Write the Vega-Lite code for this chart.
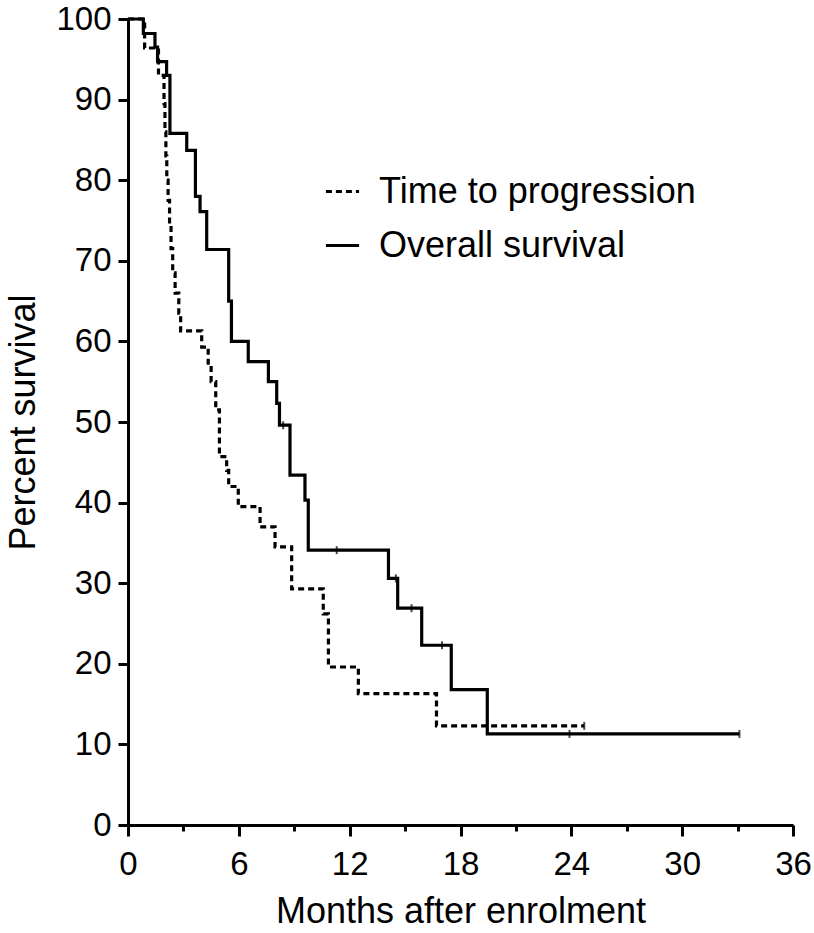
{
  "$schema": "https://vega.github.io/schema/vega-lite/v6.json",
  "width": 665,
  "height": 806,
  "autosize": {"type": "none"},
  "padding": {"left": 128, "top": 19, "right": 21, "bottom": 108},
  "background": "white",
  "config": {
    "view": {"stroke": null},
    "font": "Liberation Sans",
    "axis": {"grid": false, "domainColor": "black", "domainWidth": 3, "tickColor": "black", "tickWidth": 3, "labelColor": "black", "titleColor": "black", "labelFont": "Liberation Sans", "titleFont": "Liberation Sans", "titleFontWeight": "normal", "labelFontSize": 33, "titleFontSize": 36}
  },
  "datasets": {
    "curves": [
      {"series": "Time to progression", "month": 0, "pct": 100},
      {"series": "Time to progression", "month": 0.9, "pct": 96.4},
      {"series": "Time to progression", "month": 1.65, "pct": 93.0},
      {"series": "Time to progression", "month": 1.95, "pct": 89.5},
      {"series": "Time to progression", "month": 2.0, "pct": 86.0},
      {"series": "Time to progression", "month": 2.05, "pct": 83.0},
      {"series": "Time to progression", "month": 2.1, "pct": 80.0},
      {"series": "Time to progression", "month": 2.17, "pct": 77.5},
      {"series": "Time to progression", "month": 2.25, "pct": 74.5},
      {"series": "Time to progression", "month": 2.33, "pct": 71.5},
      {"series": "Time to progression", "month": 2.42, "pct": 68.5},
      {"series": "Time to progression", "month": 2.55, "pct": 66.0},
      {"series": "Time to progression", "month": 2.75, "pct": 63.5},
      {"series": "Time to progression", "month": 2.85, "pct": 61.3},
      {"series": "Time to progression", "month": 3.99, "pct": 59.3},
      {"series": "Time to progression", "month": 4.34, "pct": 57.3},
      {"series": "Time to progression", "month": 4.5, "pct": 55.0},
      {"series": "Time to progression", "month": 4.75, "pct": 51.5},
      {"series": "Time to progression", "month": 4.95, "pct": 45.7},
      {"series": "Time to progression", "month": 5.34, "pct": 44.0},
      {"series": "Time to progression", "month": 5.45, "pct": 42.0},
      {"series": "Time to progression", "month": 5.97, "pct": 39.5},
      {"series": "Time to progression", "month": 7.15, "pct": 37.0},
      {"series": "Time to progression", "month": 7.96, "pct": 34.5},
      {"series": "Time to progression", "month": 8.86, "pct": 29.3},
      {"series": "Time to progression", "month": 10.57, "pct": 26.2},
      {"series": "Time to progression", "month": 10.85, "pct": 19.6},
      {"series": "Time to progression", "month": 12.47, "pct": 16.3},
      {"series": "Time to progression", "month": 16.7, "pct": 12.3},
      {"series": "Time to progression", "month": 24.7, "pct": 12.3},
      {"series": "Overall survival", "month": 0, "pct": 100},
      {"series": "Overall survival", "month": 0.83, "pct": 98.2},
      {"series": "Overall survival", "month": 1.46, "pct": 96.5},
      {"series": "Overall survival", "month": 1.6, "pct": 94.7},
      {"series": "Overall survival", "month": 2.09, "pct": 93.0},
      {"series": "Overall survival", "month": 2.27, "pct": 85.8},
      {"series": "Overall survival", "month": 3.18, "pct": 83.7},
      {"series": "Overall survival", "month": 3.65, "pct": 78.0},
      {"series": "Overall survival", "month": 3.9, "pct": 76.1},
      {"series": "Overall survival", "month": 4.26, "pct": 71.4},
      {"series": "Overall survival", "month": 5.45, "pct": 65.0},
      {"series": "Overall survival", "month": 5.6, "pct": 60.0},
      {"series": "Overall survival", "month": 6.51, "pct": 57.5},
      {"series": "Overall survival", "month": 7.6, "pct": 55.0},
      {"series": "Overall survival", "month": 8.05, "pct": 52.3},
      {"series": "Overall survival", "month": 8.2, "pct": 49.6},
      {"series": "Overall survival", "month": 8.77, "pct": 43.4},
      {"series": "Overall survival", "month": 9.58, "pct": 40.3},
      {"series": "Overall survival", "month": 9.76, "pct": 34.1},
      {"series": "Overall survival", "month": 14.1, "pct": 30.6},
      {"series": "Overall survival", "month": 14.6, "pct": 26.9},
      {"series": "Overall survival", "month": 15.9, "pct": 22.3},
      {"series": "Overall survival", "month": 17.5, "pct": 16.8},
      {"series": "Overall survival", "month": 19.45, "pct": 11.3},
      {"series": "Overall survival", "month": 33.1, "pct": 11.3}
    ],
    "censor": [
      {"series": "Overall survival", "month": 8.4, "pct": 49.6},
      {"series": "Overall survival", "month": 11.3, "pct": 34.1},
      {"series": "Overall survival", "month": 14.5, "pct": 30.6},
      {"series": "Overall survival", "month": 15.35, "pct": 26.9},
      {"series": "Overall survival", "month": 17.0, "pct": 22.3},
      {"series": "Overall survival", "month": 23.9, "pct": 11.3},
      {"series": "Overall survival", "month": 33.1, "pct": 11.3},
      {"series": "Time to progression", "month": 24.7, "pct": 12.3}
    ]
  },
  "layer": [
    {
      "data": {"name": "curves"},
      "mark": {"type": "line", "interpolate": "step-after", "color": "black", "strokeWidth": 3.2, "clip": false},
      "encoding": {
        "x": {"field": "month", "type": "quantitative", "scale": {"domain": [0, 36], "nice": false, "zero": true},
          "axis": {"values": [0, 3, 6, 9, 12, 15, 18, 21, 24, 27, 30, 33, 36], "labelExpr": "datum.value % 6 === 0 ? datum.label : ''",
            "tickSize": {"condition": {"test": "datum.value % 6 === 0", "value": 11}, "value": 6},
            "labelPadding": 12, "title": "Months after enrolment", "titlePadding": 13, "labelFlush": false}},
        "y": {"field": "pct", "type": "quantitative", "scale": {"domain": [0, 100], "nice": false},
          "axis": {"values": [0, 10, 20, 30, 40, 50, 60, 70, 80, 90, 100], "tickSize": 10, "labelPadding": 7, "title": "Percent survival", "titlePadding": 13, "labelFlush": false}},
        "detail": {"field": "series"},
        "strokeDash": {"field": "series", "type": "nominal",
          "scale": {"domain": ["Time to progression", "Overall survival"], "range": [[6, 4], [1, 0]]},
          "legend": {"title": null, "orient": "none", "legendX": 196, "legendY": 154, "labelFontSize": 36, "labelFont": "Liberation Sans", "labelColor": "black", "symbolType": "stroke", "symbolSize": 1100, "symbolStrokeWidth": 3, "symbolStrokeColor": "black", "rowPadding": 17, "labelOffset": 18, "labelLimit": 500}}
      }
    },
    {
      "data": {"name": "censor"},
      "mark": {"type": "tick", "orient": "vertical", "color": "black", "size": 8, "thickness": 2},
      "encoding": {
        "x": {"field": "month", "type": "quantitative"},
        "y": {"field": "pct", "type": "quantitative"}
      }
    }
  ]
}
